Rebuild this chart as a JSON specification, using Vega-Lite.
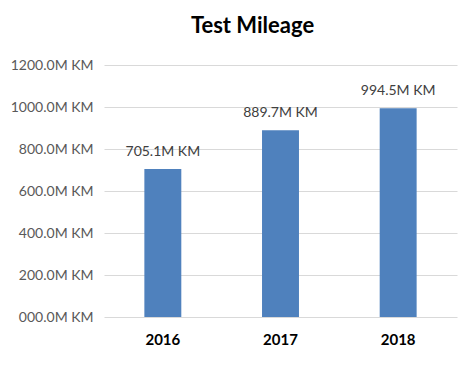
{
  "$schema": "https://vega.github.io/schema/vega-lite/v6.json",
  "width": 353,
  "height": 252,
  "autosize": "none",
  "padding": {"left": 104, "top": 65, "right": 19, "bottom": 56},
  "background": "white",
  "config": {"view": {"stroke": null}, "font": "Lato"},
  "title": {
    "text": "Test Mileage",
    "font": "Lato",
    "fontSize": 22,
    "fontWeight": "bold",
    "color": "#000000",
    "anchor": "middle",
    "dx": -28,
    "dy": 22,
    "baseline": "bottom",
    "offset": 20
  },
  "data": {
    "values": [
      {"year": "2016", "mileage": 705.1, "label": "705.1M KM"},
      {"year": "2017", "mileage": 889.7, "label": "889.7M KM"},
      {"year": "2018", "mileage": 994.5, "label": "994.5M KM"}
    ]
  },
  "encoding": {
    "x": {
      "field": "year",
      "type": "nominal",
      "scale": {"paddingInner": 0.686, "paddingOuter": 0.343},
      "axis": {
        "title": null,
        "labelAngle": 0,
        "labelFont": "Lato",
        "labelFontSize": 15,
        "labelFontWeight": "bold",
        "labelColor": "#000000",
        "labelPadding": 15,
        "ticks": false,
        "domain": false,
        "grid": false
      }
    },
    "y": {
      "field": "mileage",
      "type": "quantitative",
      "scale": {"domain": [0, 1200], "nice": false},
      "axis": {
        "title": null,
        "values": [0, 200, 400, 600, 800, 1000, 1200],
        "labelExpr": "format(datum.value, '05.1f') + 'M KM'",
        "labelFont": "Lato",
        "labelFontSize": 14,
        "labelColor": "#595959",
        "labelPadding": 11,
        "ticks": false,
        "domain": false,
        "grid": true,
        "gridColor": "#d9d9d9",
        "gridWidth": 1
      }
    }
  },
  "layer": [
    {"mark": {"type": "bar", "color": "#4f81bd"}},
    {
      "mark": {"type": "text", "baseline": "alphabetic", "dy": -13, "font": "Lato", "fontSize": 14, "color": "#404040"},
      "encoding": {
        "text": {"field": "label", "type": "nominal"}
      }
    }
  ]
}
